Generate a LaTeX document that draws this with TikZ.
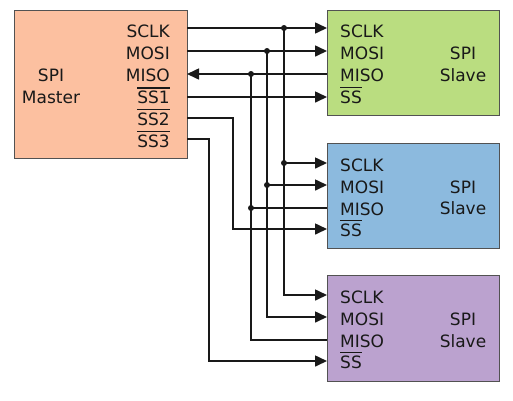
\documentclass[tikz,border=0pt]{standalone}
\usepackage{fontspec}
\setmainfont{DejaVu Sans}
\usetikzlibrary{arrows.meta}
\definecolor{mastercol}{RGB}{252,192,160}
\definecolor{greencol}{RGB}{186,221,128}
\definecolor{bluecol}{RGB}{140,186,222}
\definecolor{purplecol}{RGB}{187,162,207}
\definecolor{ink}{RGB}{25,25,25}
\newcommand\ovl[1]{\vbox{\hrule height 1.4pt\kern 2.2pt\hbox{#1}}}
\begin{document}
\begin{tikzpicture}[x=1pt,y=-1pt,
  box/.style={draw=ink!75,line width=1pt,inner sep=0pt},
  wire/.style={draw=ink,line width=1.6pt},
  arr/.style={wire,-{Triangle[length=12pt,width=11pt]}},
  jdot/.style={circle,fill=ink,inner sep=0pt,minimum size=6pt},
  lbl/.style={font=\fontsize{17}{20}\selectfont,text=ink,inner sep=0pt}]
\useasboundingbox (0,0) rectangle (513,400);
% boxes
\node[box,fill=mastercol,minimum width=173pt,minimum height=148pt] (master) at (100.5,84) {};
\node[box,fill=greencol,minimum width=172pt,minimum height=105pt] (s1) at (413,62.5) {};
\node[box,fill=bluecol,minimum width=172pt,minimum height=105pt] (s2) at (413,195.5) {};
\node[box,fill=purplecol,minimum width=172pt,minimum height=106pt] (s3) at (413,328) {};
% master labels
\node[lbl,anchor=base] (mspi) at (51,81) {SPI};
\node[lbl,anchor=base] (mmaster) at (51,103) {Master};
\node[lbl,anchor=base east] (lmsclk) at (170,37) {SCLK};
\node[lbl,anchor=base east] (lmmosi) at (170,59) {MOSI};
\node[lbl,anchor=base east] (lmmiso) at (170,81) {MISO};
\node[lbl,anchor=base east] (lmss1) at (170,103.5) {\ovl{SS1}};
\node[lbl,anchor=base east] (lmss2) at (170,125) {\ovl{SS2}};
\node[lbl,anchor=base east] (lmss3) at (170,147) {\ovl{SS3}};
% slave labels
\foreach \s/\a/\b/\c/\d/\p/\q in {s1/37/59/81.5/103/59/81.5, s2/171/193/215/236/193/214.5, s3/303/325/347/368/325/347}{
  \node[lbl,anchor=base west] (\s-lsclk) at (340,\a) {SCLK};
  \node[lbl,anchor=base west] (\s-lmosi) at (340,\b) {MOSI};
  \node[lbl,anchor=base west] (\s-lmiso) at (340,\c) {MISO};
  \node[lbl,anchor=base west] (\s-lss) at (340,\d) {\ovl{SS}};
  \node[lbl,anchor=base] (\s-spi) at (463,\p) {SPI};
  \node[lbl,anchor=base] (\s-slave) at (463,\q) {Slave};
}
% pin coordinates
\coordinate (m-sclk) at (187,28);
\coordinate (m-mosi) at (187,51);
\coordinate (m-miso) at (187,74);
\coordinate (m-ss1) at (187,97);
\coordinate (m-ss2) at (187,118);
\coordinate (m-ss3) at (187,139);
\coordinate (s1-sclk) at (327,28);
\coordinate (s1-mosi) at (327,51);
\coordinate (s1-miso) at (327,74);
\coordinate (s1-ss) at (327,97);
\coordinate (s2-sclk) at (327,163);
\coordinate (s2-mosi) at (327,185);
\coordinate (s2-miso) at (327,208);
\coordinate (s2-ss) at (327,229);
\coordinate (s3-sclk) at (327,295);
\coordinate (s3-mosi) at (327,317);
\coordinate (s3-miso) at (327,340);
\coordinate (s3-ss) at (327,361);
% junctions
\coordinate (j1a) at (284,28);
\coordinate (j1b) at (284,163);
\coordinate (j2a) at (267,51);
\coordinate (j2b) at (267,185);
\coordinate (j3a) at (251,74);
\coordinate (j3b) at (251,208);
% wires
\draw[arr] (m-sclk) -- (s1-sclk);
\draw[arr] (j1a) |- (s3-sclk);
\draw[arr] (j1b) -- (s2-sclk);
\draw[arr] (m-mosi) -- (s1-mosi);
\draw[arr] (j2a) |- (s3-mosi);
\draw[arr] (j2b) -- (s2-mosi);
\draw[arr] (s1-miso) -- (m-miso);
\draw[wire] (j3a) |- (s3-miso);
\draw[wire] (j3b) -- (s2-miso);
\draw[arr] (m-ss1) -- (s1-ss);
\draw[arr] (m-ss2) -| (233,180) |- (s2-ss);
\draw[arr] (m-ss3) -| (209,300) |- (s3-ss);
\foreach \j in {j1a,j1b,j2a,j2b,j3a,j3b} \node[jdot] at (\j) {};
\end{tikzpicture}
\end{document}
